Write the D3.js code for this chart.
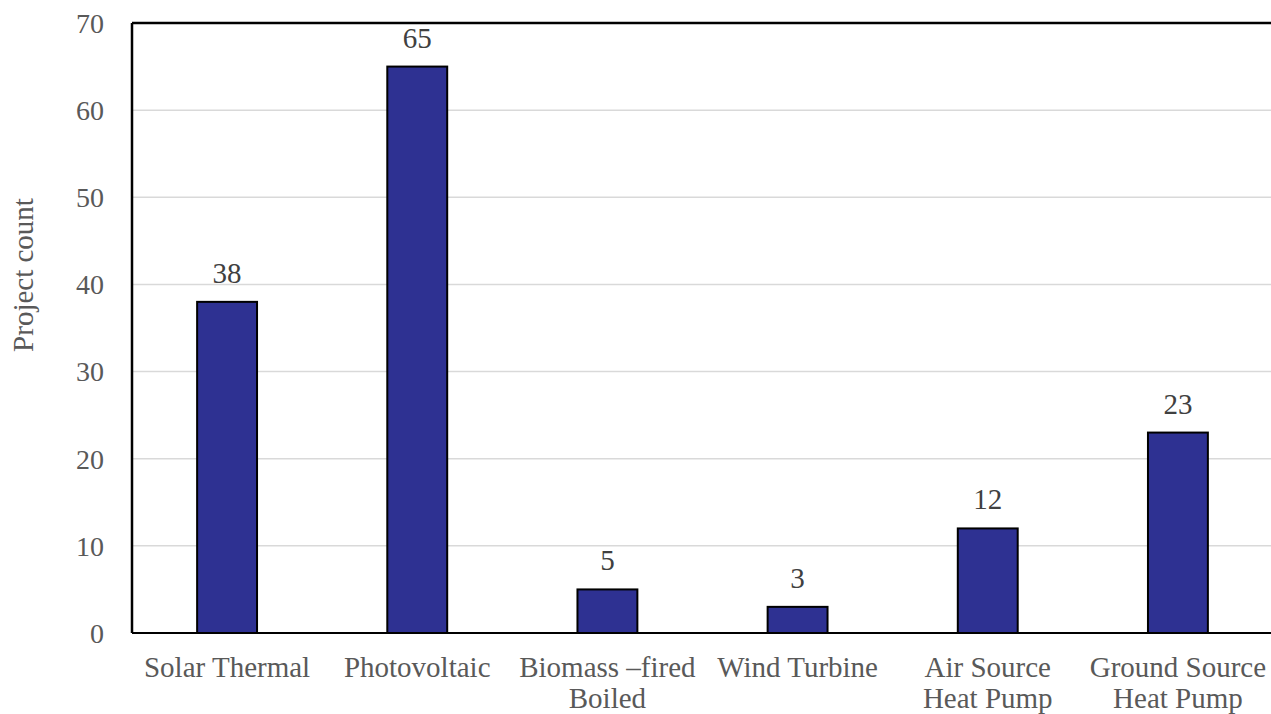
<!DOCTYPE html>
<html>
<head>
<meta charset="utf-8">
<script src="https://cdn.jsdelivr.net/npm/d3@7"></script>
<style>
  body { margin: 0; background: #fff; }
</style>
</head>
<body>
<script>
let categories = [["Solar Thermal"], ["Photovoltaic"], ["Biomass \u2013fired", "Boiled"], ["Wind Turbine"], ["Air Source", "Heat Pump"], ["Ground Source", "Heat Pump"]];
let counts = [38, 65, 5, 3, 12, 23];
let yTicks = [0, 10, 20, 30, 40, 50, 60, 70];

let size = {width: 1271, height: 714};
let margin = {top: 23, right: -2, bottom: 81, left: 132};

let svg = d3.select("body").append("svg")
    .attr("width", size.width)
    .attr("height", size.height)
    .attr("font-family", "'Liberation Serif', 'Times New Roman', serif");

let names = categories.map(c => c.join(" "));

let x = d3.scaleBand()
    .domain(names)
    .range([margin.left, size.width - margin.right])
    .paddingInner(0.685)
    .paddingOuter(0.3425);

let y = d3.scaleLinear()
    .domain([0, 70])
    .range([size.height - margin.bottom, margin.top]);

// gridlines
svg.append("g")
    .selectAll("line")
    .data(yTicks.filter(d => d > 0 && d < 70))
    .join("line")
    .attr("x1", margin.left)
    .attr("x2", size.width)
    .attr("y1", d => y(d))
    .attr("y2", d => y(d))
    .attr("stroke", "#d9d9d9")
    .attr("stroke-width", 1.5);

// y tick labels
svg.append("g")
    .selectAll("text")
    .data(yTicks)
    .join("text")
    .attr("x", 104)
    .attr("y", d => y(d))
    .attr("dy", "0.35em")
    .attr("text-anchor", "end")
    .attr("fill", "#595959")
    .attr("font-size", 28)
    .text(d => d);

// bars
svg.append("g")
    .selectAll("rect")
    .data(counts)
    .join("rect")
    .attr("x", (d, i) => x(names[i]))
    .attr("y", d => y(d))
    .attr("width", x.bandwidth())
    .attr("height", d => y(0) - y(d))
    .attr("fill", "#2e3192")
    .attr("stroke", "#000")
    .attr("stroke-width", 2);

// value labels
svg.append("g")
    .selectAll("text")
    .data(counts)
    .join("text")
    .attr("x", (d, i) => x(names[i]) + x.bandwidth() / 2)
    .attr("y", d => y(d) - 19)
    .attr("text-anchor", "middle")
    .attr("fill", "#404040")
    .attr("font-size", 29)
    .text(d => d);

// frame: left, top, bottom
svg.append("line")
    .attr("x1", margin.left).attr("x2", margin.left)
    .attr("y1", y(70)).attr("y2", y(0))
    .attr("stroke", "#000").attr("stroke-width", 2.5);
svg.append("line")
    .attr("x1", margin.left).attr("x2", size.width)
    .attr("y1", y(70)).attr("y2", y(70))
    .attr("stroke", "#000").attr("stroke-width", 2.5);
svg.append("line")
    .attr("x1", margin.left).attr("x2", size.width)
    .attr("y1", y(0)).attr("y2", y(0))
    .attr("stroke", "#000").attr("stroke-width", 2);

// category labels
svg.append("g")
    .selectAll("text")
    .data(categories)
    .join("text")
    .attr("x", (d, i) => x(names[i]) + x.bandwidth() / 2)
    .attr("y", 677)
    .attr("text-anchor", "middle")
    .attr("fill", "#595959")
    .attr("font-size", 29)
    .each(function (d) {
        d3.select(this).selectAll("tspan")
            .data(d)
            .join("tspan")
            .attr("x", d3.select(this).attr("x"))
            .attr("dy", (t, j) => j === 0 ? 0 : 31)
            .text(t => t);
    });

// y axis title
svg.append("text")
    .attr("transform", "translate(33,275) rotate(-90)")
    .attr("text-anchor", "middle")
    .attr("fill", "#595959")
    .attr("font-size", 29)
    .text("Project count");
</script>
</body>
</html>
